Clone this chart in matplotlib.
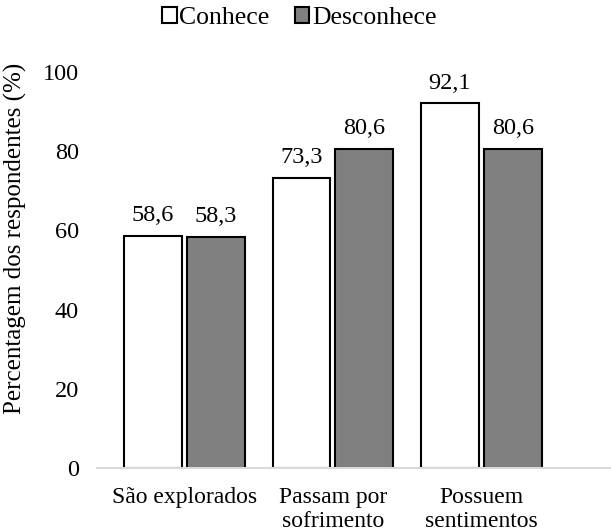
import matplotlib.pyplot as plt
import numpy as np

categories = ["São explorados", "Passam por\nsofrimento", "Possuem\nsentimentos"]
conhece = [58.6, 73.3, 92.1]
desconhece = [58.3, 80.6, 80.6]
yticks = [0, 20, 40, 60, 80, 100]

plt.rcParams["font.family"] = ["Liberation Serif", "DejaVu Serif"]

fig = plt.figure(figsize=(6.11, 5.32), dpi=100)
ax = fig.add_axes([0.1588, 0.1203, 0.841, 0.7444])

x = np.arange(len(categories))
w = 0.39
off = 0.212
b1 = ax.bar(x - off, conhece, w, color="white", edgecolor="black", linewidth=1.5, label="Conhece")
b2 = ax.bar(x + off, desconhece, w, color="#808080", edgecolor="black", linewidth=1.5, label="Desconhece")

# rótulos de dados com vírgula decimal
for bars, vals in ((b1, conhece), (b2, desconhece)):
    for r, v in zip(bars, vals):
        ax.annotate(f"{v:.1f}".replace(".", ","), (r.get_x() + r.get_width() / 2, v),
                    xytext=(0, 7), textcoords="offset points", ha="center", va="bottom", fontsize=17.5)

ax.set_xlim(-0.589, 2.872)
ax.set_ylim(0, 100)
ax.set_yticks(yticks)
ax.set_xticks(x)
ax.set_xticklabels(categories, fontsize=17, linespacing=1.15)
ax.tick_params(axis="y", length=0, labelsize=17.5, pad=13)
ax.tick_params(axis="x", length=0, pad=14)
for s in ("top", "right", "left"):
    ax.spines[s].set_visible(False)
ax.spines["bottom"].set_color("#d9d9d9")
ax.spines["bottom"].set_linewidth(1.5)
ax.set_ylabel("Percentagem dos respondentes (%)", fontsize=18)
ax.yaxis.set_label_coords(-0.136, 0.58)

fig.legend(loc="center", bbox_to_anchor=(0.49, 0.966), ncol=2, frameon=False, fontsize=18.5,
           handlelength=0.55, handleheight=0.55, handletextpad=0.1, columnspacing=1.0)

fig.savefig("out.png", dpi=100)
